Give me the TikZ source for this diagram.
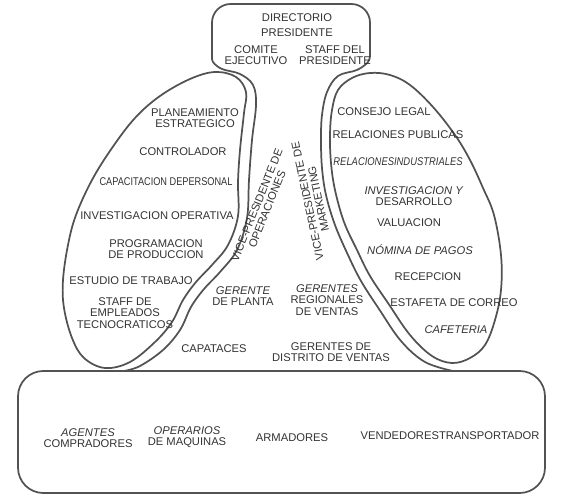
\documentclass[tikz,border=0pt]{standalone}
\usepackage{fontspec}
\setmainfont{Liberation Sans}
\begin{document}
\begin{tikzpicture}[x=0.75pt,y=-0.75pt,
  lbl/.style={font=\fontsize{8.4}{8.4}\selectfont, text=black!80, align=center, inner sep=0pt},
  itl/.style={lbl, font=\fontsize{8.4}{8.4}\selectfont\itshape},
  contour/.style={draw=black!68, line width=1.3pt, line join=round, line cap=round}]
\fill[white] (0,0) rectangle (583,502);
\useasboundingbox (0,0) rectangle (583,502);

% top box
\draw[contour] (212,56) [rounded corners=14pt] -- (212,4) -- (370,4) -- (370,56);
% left outer line
\draw[contour] plot[smooth, tension=0.6] coordinates {(212,55) (213,62) (222,69) (240,74) (253,85) (256,105) (252,140) (249,180) (247,218) (237,250) (220,272) (204,289) (191,307) (180,330) (163,350) (140,366) (124,371)};
% right outer line
\draw[contour] plot[smooth, tension=0.6] coordinates {(370,55) (368,62) (357,70) (338,76) (327,92) (322,115) (321,140) (322,168) (326,195) (335,225) (348,255) (361,281) (379,309) (401,341) (425,362) (453,371)};
% left ellipse
\draw[contour] plot[smooth cycle, tension=0.6] coordinates {(215,72) (236,77) (246,92) (244,113) (240,150) (238,182) (238,216) (228,245) (212,265) (196,282) (183,300) (172,322) (155,342) (130,362) (105,368) (84,358) (72,338) (64,308) (63,280) (68,245) (76,215) (92,180) (112,148) (135,118) (160,96) (190,79)};
% right ellipse
\draw[contour] plot[smooth cycle, tension=0.6] coordinates {(370,73) (390,75) (410,85) (433,107) (455,135) (470,160) (483,188) (494,215) (501,255) (501,290) (495,320) (485,345) (470,358) (452,363) (432,356) (410,335) (388,303) (370,276) (357,250) (344,222) (335,190) (331,163) (330,135) (332,110) (338,90) (352,78)};
% bottom box
\draw[contour, rounded corners=19pt] (18,371) rectangle (545,493);

% top texts
\node[lbl] (dir) at (297,18) {DIRECTORIO};
\node[lbl] (pres) at (297,33) {PRESIDENTE};
\node[lbl] (com) at (256,55) {COMITE\\EJECUTIVO};
\node[lbl] (staff) at (335,55) {STAFF DEL\\PRESIDENTE};

% left lobe
\node[lbl] (plan) at (195,118) {PLANEAMIENTO\\ESTRATEGICO};
\node[lbl] (ctrl) at (183,152) {CONTROLADOR};
\node[lbl, xscale=0.82] (cap) at (166,182) {CAPACITACION DEPERSONAL};
\node[lbl] (inv) at (157,216) {INVESTIGACION OPERATIVA};
\node[lbl] (prog) at (156,249) {PROGRAMACION\\DE PRODUCCION};
\node[lbl] (est) at (131,281) {ESTUDIO DE TRABAJO};
\node[lbl] (stf) at (125,313) {STAFF DE\\EMPLEADOS\\TECNOCRATICOS};
\node[lbl, rotate=68] (vpo1) at (256.9,204.9) {VICE-PRESIDENTE DE};
\node[lbl, rotate=68] (vpo2) at (267.1,209.1) {OPERACIONES};
\node[lbl] (gp) at (243,296) {\textit{GERENTE}\\DE PLANTA};
\node[lbl] (capa) at (214,349) {CAPATACES};

% right lobe
\node[lbl] (cl) at (384,112) {CONSEJO LEGAL};
\node[lbl] (rp) at (398,135) {RELACIONES PUBLICAS};
\node[itl, xscale=0.84] (ri) at (398,162) {RELACIONESINDUSTRIALES};
\node[lbl] (id) at (414,196) {\textit{INVESTIGACION Y}\\DESARROLLO};
\node[lbl] (val) at (409,223) {VALUACION};
\node[itl] (nom) at (420,250) {NÓMINA DE PAGOS};
\node[lbl] (rec) at (428,277) {RECEPCION};
\node[lbl] (esta) at (454,303) {ESTAFETA DE CORREO};
\node[itl] (caf) at (456,330) {CAFETERIA};
\node[lbl, rotate=102] (vpm1) at (307.6,201.1) {VICE-PRESIDENTE DE};
\node[lbl, rotate=102] (vpm2) at (318.4,198.9) {MARKETING};
\node[lbl] (grv) at (327,300) {\textit{GERENTES}\\REGIONALES\\DE VENTAS};
\node[lbl] (gdv) at (331,352) {GERENTES DE\\DISTRITO DE VENTAS};

% bottom box texts
\node[lbl] (ag) at (88,438) {\textit{AGENTES}\\COMPRADORES};
\node[lbl] (op) at (187,437) {\textit{OPERARIOS}\\DE MAQUINAS};
\node[lbl] (arm) at (292,438) {ARMADORES};
\node[lbl] (vt) at (450,436) {VENDEDORESTRANSPORTADOR};
\end{tikzpicture}
\end{document}
